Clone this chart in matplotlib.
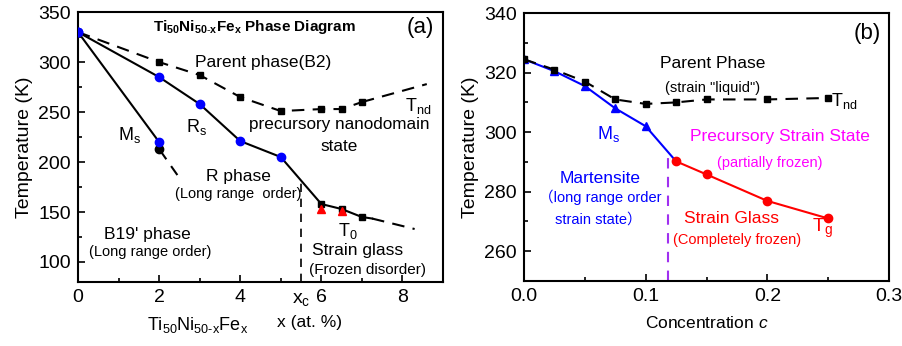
import matplotlib
matplotlib.use("Agg")
import matplotlib.pyplot as plt
from matplotlib.ticker import MultipleLocator

plt.rcParams['font.family'] = ['Liberation Sans', 'Noto Sans CJK SC', 'DejaVu Sans']
plt.rcParams['mathtext.fontset'] = 'custom'
plt.rcParams['mathtext.rm'] = 'Liberation Sans'
plt.rcParams['mathtext.it'] = 'Liberation Sans:italic'
plt.rcParams['mathtext.bf'] = 'Liberation Sans:bold'

# ---- panel (a): Ti50Ni50-xFex ----
a_tnd_x = [0, 2, 3, 4, 5, 6, 6.5, 7]
a_tnd = [330, 300, 287, 265, 251, 253, 253, 260]
a_tnd_ext_x = [7, 8.6]
a_tnd_ext = [260, 278]

a_rs_x = [0, 2, 3, 4, 5]
a_rs = [330, 285, 258, 221, 205]
a_t0_x = [6, 6.5, 7]
a_t0 = [158, 153, 145]
a_t0_tri = [153, 151]
a_t0_end_x = [7.25, 8.3]
a_t0_end = [143.5, 133]

a_ms_x = [0, 2]
a_ms = [330, 220]
a_ms_black = 213
a_ms_ext_x = [2, 2.45]
a_ms_ext = [213, 187]

a_xc = 5.5
a_xc_top = 183

# ---- panel (b): concentration c ----
b_c = [0, 0.025, 0.05, 0.075, 0.1, 0.125, 0.15, 0.2, 0.25]
b_tnd = [324.5, 321, 317, 311, 309.5, 310, 311, 311, 311.5]
b_ms_c = [0, 0.025, 0.05, 0.075, 0.1, 0.125]
b_ms = [324.5, 320.5, 315.5, 308, 302, 290.2]
b_tg_c = [0.125, 0.15, 0.2, 0.25]
b_tg = [290.2, 285.8, 276.9, 271]
b_xc = 0.118
b_xc_top = 293

fig = plt.figure(figsize=(9.03, 3.46), dpi=100)
ax1 = fig.add_axes([0.0864, 0.185, 0.4042, 0.780])
ax2 = fig.add_axes([0.5803, 0.188, 0.4042, 0.774])

BLUE = '#0000ff'
RED = '#ff0000'
MAG = '#ff00ff'
PURP = '#a030f0'

for ax in (ax1, ax2):
    for sp in ax.spines.values():
        sp.set_linewidth(1.5)
    ax.tick_params(which='both', direction='in', width=1.2, labelsize=14, pad=5)
    ax.tick_params(which='major', length=5)
    ax.tick_params(which='minor', length=3)

# --- (a) ---
ax1.plot(a_tnd_x, a_tnd, color='k', lw=1.5, dashes=(6, 4), marker='s', ms=5, zorder=3)
ax1.plot(a_tnd_ext_x, a_tnd_ext, color='k', lw=1.5, dashes=(6, 4), zorder=3)
ax1.plot(a_rs_x + a_t0_x + a_t0_end_x[:1], a_rs + a_t0 + a_t0_end[:1], color='k', lw=1.5, zorder=2)
ax1.plot(a_t0_end_x, a_t0_end, color='k', lw=1.5, dashes=(6, 4))
ax1.plot(a_rs_x, a_rs, ls='none', marker='o', color=BLUE, ms=6, zorder=4)
ax1.plot(a_t0_x, a_t0, ls='none', marker='s', color='k', ms=5, zorder=4)
ax1.plot(a_t0_x[:2], a_t0_tri, ls='none', marker='^', color=RED, ms=6, zorder=5)
ax1.plot(a_ms_x, a_ms, color='k', lw=1.5, zorder=2)
ax1.plot(a_ms_ext_x, a_ms_ext, color='k', lw=1.5, dashes=(6, 4))
ax1.plot([a_ms_x[1]], [a_ms_black], ls='none', marker='o', color='k', ms=6, zorder=4)
ax1.plot(a_ms_x, a_ms, ls='none', marker='o', color=BLUE, ms=6, zorder=5)
ax1.plot([a_xc, a_xc], [80, a_xc_top], color='k', lw=1.2, dashes=(5, 4))

ax1.set_xlim(0, 9)
ax1.set_ylim(80, 350)
ax1.xaxis.set_major_locator(MultipleLocator(2))
ax1.xaxis.set_minor_locator(MultipleLocator(1))
ax1.yaxis.set_major_locator(MultipleLocator(50))
ax1.yaxis.set_minor_locator(MultipleLocator(25))
ax1.set_yticks([100, 150, 200, 250, 300, 350])
ax1.set_ylabel('Temperature (K)', fontsize=14, labelpad=4)
ax1.text(a_xc, -0.035, r'x$_{\mathrm{c}}$', transform=ax1.get_xaxis_transform(),
         ha='center', va='top', fontsize=14)

ax1.text(4.35, 335, r'$\mathbf{Ti_{50}Ni_{50\text{-}x}Fe_x}$ Phase Diagram',
         fontsize=11, fontweight='bold', ha='center', va='center')
ax1.text(8.43, 335, '(a)', fontsize=16, ha='center', va='center')
ax1.text(4.56, 300, 'Parent phase(B2)', fontsize=12.5, ha='center', va='center')
ax1.text(8.06, 256.5, r'T$_{\mathrm{nd}}$', fontsize=13, ha='left', va='center')
ax1.text(6.43, 237.5, 'precursory nanodomain', fontsize=12.3, ha='center', va='center')
ax1.text(6.43, 216, 'state', fontsize=12.3, ha='center', va='center')
ax1.text(1.28, 227, r'M$_{\mathrm{s}}$', fontsize=13, ha='center', va='center')
ax1.text(2.93, 235, r'R$_{\mathrm{s}}$', fontsize=13, ha='center', va='center')
ax1.text(3.95, 186, 'R phase', fontsize=12.5, ha='center', va='center')
ax1.text(3.95, 168, '(Long range  order)', fontsize=10.5, ha='center', va='center')
ax1.text(1.70, 128, "B19' phase", fontsize=12.5, ha='center', va='center')
ax1.text(1.78, 110, '(Long range order)', fontsize=10.5, ha='center', va='center')
ax1.text(6.66, 131, r'T$_{\mathrm{0}}$', fontsize=13, ha='center', va='center')
ax1.text(6.9, 112, 'Strain glass', fontsize=12.5, ha='center', va='center')
ax1.text(7.13, 92, '(Frozen disorder)', fontsize=11, ha='center', va='center')

fig.text(198 / 903, 1 - 325 / 346, r'Ti$_{\mathrm{50}}$Ni$_{\mathrm{50\text{-}x}}$Fe$_{\mathrm{x}}$',
         fontsize=13, ha='center', va='center')
fig.text(310 / 903, 1 - 323 / 346, 'x (at. %)', fontsize=12.5, ha='center', va='center')

# --- (b) ---
ax2.plot(b_c, b_tnd, color='k', lw=1.5, dashes=(6, 4), marker='s', ms=5, zorder=3)
ax2.plot(b_ms_c, b_ms, color=BLUE, lw=1.5, zorder=2)
ax2.plot(b_ms_c[:-1], b_ms[:-1], ls='none', marker='^', color=BLUE, ms=6, zorder=2)
ax2.plot(b_tg_c, b_tg, color=RED, lw=1.5, marker='o', ms=6, zorder=4)
ax2.plot([b_xc, b_xc], [250, b_xc_top], color=PURP, lw=1.5, dashes=(5, 4))

ax2.set_xlim(0, 0.3)
ax2.set_ylim(250, 340)
ax2.xaxis.set_major_locator(MultipleLocator(0.1))
ax2.xaxis.set_minor_locator(MultipleLocator(0.05))
ax2.yaxis.set_major_locator(MultipleLocator(20))
ax2.yaxis.set_minor_locator(MultipleLocator(10))
ax2.set_yticks([260, 280, 300, 320, 340])
ax2.set_xticks([0.0, 0.1, 0.2, 0.3])
ax2.set_xticklabels(['0.0', '0.1', '0.2', '0.3'])
ax2.set_ylabel('Temperature (K)', fontsize=14, labelpad=4)
ax2.set_xlabel(r'Concentration $\mathit{c}$', fontsize=12.5, labelpad=7)

ax2.text(0.282, 333.3, '(b)', fontsize=16, ha='center', va='center')
ax2.text(0.155, 323, 'Parent Phase', fontsize=12.5, ha='center', va='center')
ax2.text(0.155, 315, '(strain "liquid")', fontsize=10.5, ha='center', va='center')
ax2.text(0.2525, 310.5, r'T$_{\mathrm{nd}}$', fontsize=13, ha='left', va='center')
ax2.text(0.0697, 299.3, r'M$_{\mathrm{s}}$', fontsize=13, color=BLUE, ha='center', va='center')
ax2.text(0.21, 298.7, 'Precursory Strain State', fontsize=12.5, color=MAG, ha='center', va='center')
ax2.text(0.2016, 289.7, '(partially frozen)', fontsize=10.5, color=MAG, ha='center', va='center')
ax2.text(0.0623, 284.3, 'Martensite', fontsize=12.5, color=BLUE, ha='center', va='center')
ax2.text(0.0623, 278, '\uff08long range order', fontsize=10.5, color=BLUE, ha='center', va='center')
ax2.text(0.061, 270.7, 'strain state\uff09', fontsize=10.5, color=BLUE, ha='center', va='center')
ax2.text(0.1705, 271, 'Strain Glass', fontsize=12.5, color=RED, ha='center', va='center')
ax2.text(0.1754, 263.7, '(Completely frozen)', fontsize=10.5, color=RED, ha='center', va='center')
ax2.text(0.2455, 267.7, r'T$_{\mathrm{g}}$', fontsize=14, color=RED, ha='center', va='center')

fig.savefig('out.png', dpi=100)
